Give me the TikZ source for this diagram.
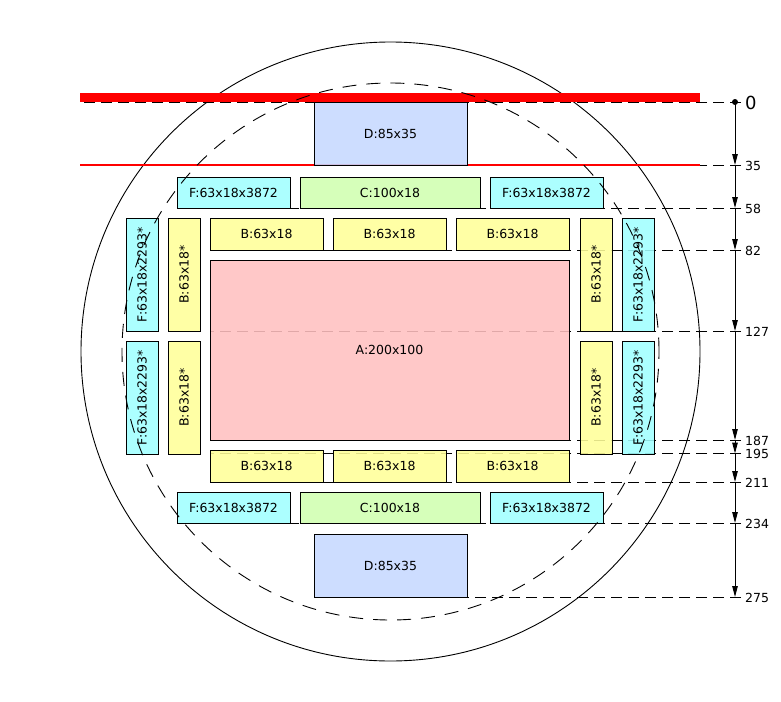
\documentclass[tikz,border=0pt]{standalone}
\usepackage{fontspec}
\setmainfont{DejaVu Sans}
\usetikzlibrary{arrows.meta}
\definecolor{colA}{RGB}{255,192,192}
\definecolor{colB}{RGB}{255,255,153}
\definecolor{colC}{RGB}{208,255,176}
\definecolor{colD}{RGB}{198,216,255}
\definecolor{colF}{RGB}{160,255,255}
\begin{document}
\begin{tikzpicture}[x=1pt,y=-1pt,
  box/.style={draw=black, line width=0.9pt, fill opacity=0.88, draw opacity=1, text opacity=1, inner sep=0pt, font=\fontsize{12.5}{14}\selectfont},
  hbox/.style={box, minimum width=113pt, minimum height=32pt},
  vbox/.style={box, rotate=90, minimum width=113pt, minimum height=32pt},
  cbox/.style={box, fill=colC, minimum width=180pt, minimum height=31pt},
  dbox/.style={box, fill=colD, minimum width=153pt, minimum height=63pt},
  hdash/.style={draw=black, line width=0.9pt, dash pattern=on 11pt off 6pt},
  scaleline/.style={draw=black, line width=1pt, -{Triangle[length=11pt,width=5.5pt]}},
  slabel/.style={anchor=west, inner sep=0pt, font=\fontsize{12.5}{14}\selectfont}]
\useasboundingbox (0,0) rectangle (781,701);
% outer circle
\draw[line width=0.9pt] (390.5,351.5) circle[radius=309.5pt];
% scale coordinates
\coordinate (s0) at (735,102);
\coordinate (s35) at (735,165);
\coordinate (s58) at (735,208);
\coordinate (s82) at (735,250);
\coordinate (s127) at (735,331);
\coordinate (s187) at (735,440);
\coordinate (s195) at (735,453.5);
\coordinate (s211) at (735,482);
\coordinate (s234) at (735,523);
\coordinate (s275) at (735,597);
\coordinate (e0) at (741,102);
\coordinate (e35) at (741,165);
\coordinate (e58) at (741,208);
\coordinate (e82) at (741,250);
\coordinate (e127) at (741,331);
\coordinate (e187) at (741,440);
\coordinate (e195) at (741,453.5);
\coordinate (e211) at (741,482);
\coordinate (e234) at (741,523);
\coordinate (e275) at (741,597);
\coordinate (w0) at (80,102);
\coordinate (w35) at (700,165);
\coordinate (r35) at (80,165);
\coordinate (w58) at (177,208);
\coordinate (w82) at (210,250);
\coordinate (w127) at (210,331);
\coordinate (w187) at (210,440);
\coordinate (w195) at (210,453.5);
\coordinate (w211) at (210,482);
\coordinate (w234) at (177,523);
\coordinate (w275) at (314,597);
% dashed level lines
\draw[hdash] (e0) -- (w0);
\draw[hdash] (e35) -- (w35);
\draw[hdash] (e58) -- (w58);
\draw[hdash] (e82) -- (w82);
\draw[hdash] (e127) -- (w127);
\draw[hdash] (e187) -- (w187);
\draw[hdash] (e195) -- (w195);
\draw[hdash] (e211) -- (w211);
\draw[hdash] (e234) -- (w234);
\draw[hdash] (e275) -- (w275);
% red bar and red line
\fill[red] (80,92.5) rectangle (700,102);
\draw[draw={rgb,255:red,255;green,0;blue,0}, line width=1.2pt] (r35) -- (w35);
% boxes
\node[dbox] (Dtop) at (390.5,133.5) {D:85x35};
\node[cbox] (Ctop) at (390,192.5) {C:100x18};
\node[hbox, fill=colF, minimum height=31pt] (Ftl) at (233.5,192.5) {F:63x18x3872};
\node[hbox, fill=colF, minimum height=31pt] (Ftr) at (546.5,192.5) {F:63x18x3872};
\node[hbox, fill=colB] (Bt1) at (266.5,234) {B:63x18};
\node[hbox, fill=colB] (Bt2) at (389.5,234) {B:63x18};
\node[hbox, fill=colB] (Bt3) at (512.5,234) {B:63x18};
\node[box, fill=colA, minimum width=359pt, minimum height=180pt] (A) at (389.5,350) {A:200x100};
\node[vbox, fill=colF] (Fl1) at (142,274.5) {F:63x18x2293*};
\node[vbox, fill=colF] (Fl2) at (142,397.5) {F:63x18x2293*};
\node[vbox, fill=colB] (Bl1) at (184,274.5) {B:63x18*};
\node[vbox, fill=colB] (Bl2) at (184,397.5) {B:63x18*};
\node[vbox, fill=colB] (Br1) at (596,274.5) {B:63x18*};
\node[vbox, fill=colB] (Br2) at (596,397.5) {B:63x18*};
\node[vbox, fill=colF] (Fr1) at (638,274.5) {F:63x18x2293*};
\node[vbox, fill=colF] (Fr2) at (638,397.5) {F:63x18x2293*};
\node[hbox, fill=colB] (Bb1) at (266.5,466) {B:63x18};
\node[hbox, fill=colB] (Bb2) at (389.5,466) {B:63x18};
\node[hbox, fill=colB] (Bb3) at (512.5,466) {B:63x18};
\node[cbox] (Cbot) at (390,507.5) {C:100x18};
\node[hbox, fill=colF, minimum height=31pt] (Fbl) at (233.5,507.5) {F:63x18x3872};
\node[hbox, fill=colF, minimum height=31pt] (Fbr) at (546.5,507.5) {F:63x18x3872};
\node[dbox] (Dbot) at (390.5,565.5) {D:85x35};
% dashed circle
\draw[line width=0.9pt, dash pattern=on 14pt off 10pt] (390.5,351.5) circle[radius=268.5pt];
% scale
\fill (s0) circle[radius=3pt];
\draw[scaleline] (s0) -- (s35);
\draw[scaleline] (s35) -- (s58);
\draw[scaleline] (s58) -- (s82);
\draw[scaleline] (s82) -- (s127);
\draw[scaleline] (s127) -- (s187);
\draw[scaleline] (s187) -- (s195);
\draw[scaleline] (s195) -- (s211);
\draw[scaleline] (s211) -- (s234);
\draw[scaleline] (s234) -- (s275);
\node[slabel, font=\fontsize{18}{20}\selectfont] (l0) at (745,103) {0};
\node[slabel] (l35) at (745,166) {35};
\node[slabel] (l58) at (745,209) {58};
\node[slabel] (l82) at (745,251) {82};
\node[slabel] (l127) at (745,332) {127};
\node[slabel] (l187) at (745,441) {187};
\node[slabel] (l195) at (745,454) {195};
\node[slabel] (l211) at (745,483) {211};
\node[slabel] (l234) at (745,524) {234};
\node[slabel] (l275) at (745,598) {275};
\end{tikzpicture}
\end{document}
